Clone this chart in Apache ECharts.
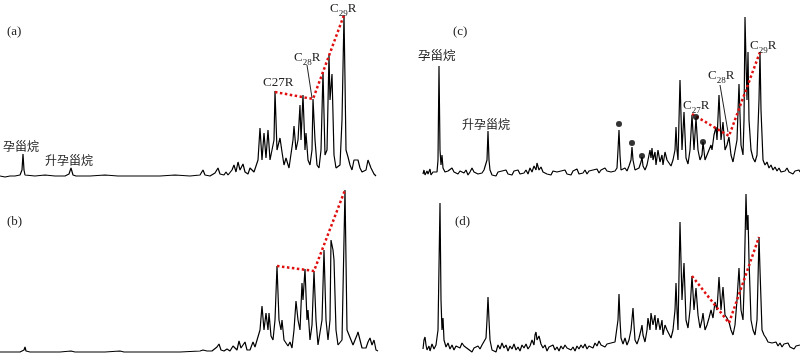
<!DOCTYPE html>
<html><head><meta charset="utf-8">
<script src="https://cdn.jsdelivr.net/npm/echarts@6/dist/echarts.min.js"></script>
<style>html,body{margin:0;padding:0;background:#fff}#c{width:800px;height:360px}</style>
</head><body><div id="c"></div>
<script>
// Panel (a): [scan, abundance]
const traceA = [[0,4],[5,3],[10,4],[15,4],[20,5],[22,10],[23,26],[24,10],[25,5],[27,4],[35,4],[45,5],[55,4],[65,4],[69,6],[71,12],[73,5],[76,4],[90,4],[105,5],[118,4],[120,6],[122,4],[140,4],[160,4],[175,5],[190,4],[200,5],[203,10],[205,5],[210,4],[215,7],[218,12],[220,6],[224,5],[226,8],[228,5],[232,10],[234,15],[236,8],[238,18],[240,10],[243,16],[245,8],[248,6],[250,12],[252,14],[254,8],[256,10],[258,20],[260,52],[262,20],[264,47],[266,22],[268,50],[270,20],[272,18],[274,40],[275,89],[277,30],[280,42],[282,28],[284,15],[286,22],[287,23],[289,12],[291,14],[293,40],[294,54],[296,30],[298,40],[300,75],[301,40],[303,85],[305,30],[306,47],[308,20],[310,15],[312,30],[313,81],[315,40],[317,15],[319,12],[321,30],[323,108],[325,25],[327,30],[329,125],[330,80],[332,106],[334,25],[336,12],[338,10],[340,15],[342,60],[344,165],[345,100],[346,30],[348,23],[350,15],[352,10],[354,20],[356,18],[358,20],[360,12],[362,8],[364,8],[366,10],[368,20],[369,21],[371,12],[372,14],[374,6],[376,4]];
const steraneA = [[275,88],[313,81],[344,165]];

// Panel (b)
const traceB = [[0,8],[10,8],[20,8],[24,10],[25,13],[26,9],[30,8],[45,8],[60,8],[71,9],[73,11],[75,8],[90,8],[105,8],[120,9],[122,10],[124,8],[140,8],[160,8],[180,8],[200,9],[203,10],[205,12],[207,9],[212,9],[217,13],[219,16],[221,10],[224,9],[227,11],[230,9],[233,14],[235,15],[237,10],[239,19],[241,12],[243,14],[245,18],[247,10],[250,10],[253,18],[255,13],[257,15],[260,30],[262,54],[264,30],[266,47],[268,30],[269,47],[271,24],[273,20],[275,40],[277,94],[279,40],[281,30],[282,40],[284,20],[286,22],[288,14],[290,18],[292,12],[294,30],[296,59],[298,40],[300,30],[302,77],[303,60],[305,91],[307,40],[308,50],[310,20],[312,35],[314,89],[316,40],[318,15],[320,17],[322,40],[324,110],[326,40],[328,20],[330,40],[331,120],[333,110],[334,100],[336,30],[338,15],[340,13],[342,20],[345,170],[347,30],[349,25],[351,20],[353,15],[355,17],[357,25],[358,28],[360,20],[362,12],[364,10],[366,12],[368,18],[370,22],[372,15],[374,20],[376,10],[378,9]];
const steraneB = [[277,94],[314,89],[345,170]];

// Panel (c)
const traceC = [[423,6],[424,10],[425,5],[427,9],[428,6],[430,11],[431,5],[433,8],[435,9],[437,8],[438,20],[439,114],[440,30],[441,15],[442,25],[443,12],[445,8],[446,6],[448,9],[450,7],[452,12],[454,8],[456,10],[458,6],[460,9],[462,11],[464,7],[466,10],[468,5],[470,8],[472,12],[474,8],[476,10],[478,6],[480,8],[482,7],[484,10],[486,12],[487,20],[488,49],[489,20],[490,10],[492,5],[494,7],[496,4],[498,8],[500,6],[502,9],[504,7],[506,10],[508,6],[510,8],[512,5],[514,9],[516,7],[518,10],[520,6],[522,8],[524,7],[526,10],[528,6],[530,12],[532,8],[534,14],[536,10],[537,17],[539,10],[541,13],[543,8],[545,9],[547,6],[549,8],[551,5],[553,9],[555,7],[557,8],[559,6],[561,9],[563,7],[565,10],[567,6],[569,8],[571,5],[573,9],[575,8],[577,11],[579,6],[581,8],[583,7],[585,10],[587,6],[589,9],[591,7],[593,10],[595,8],[597,11],[599,7],[601,10],[603,8],[605,12],[607,9],[609,11],[611,8],[613,10],[615,9],[617,12],[618,30],[619,50],[620,25],[621,10],[623,8],[625,12],[627,9],[629,14],[631,20],[632,33],[633,20],[635,10],[637,8],[639,12],[641,18],[642,23],[643,14],[645,10],[647,15],[649,25],[650,30],[651,22],[652,32],[653,20],[655,28],[656,15],[658,30],[660,18],[662,25],[663,15],[665,28],[667,20],[669,17],[671,14],[673,20],[675,30],[676,53],[677,30],[678,20],[680,100],[682,30],[684,68],[686,22],[688,16],[690,30],[692,65],[694,30],[696,62],[698,30],[700,20],[702,25],[703,38],[705,20],[707,22],[709,30],[711,35],[712,30],[714,45],[716,53],[717,40],[719,85],[721,40],[723,58],[725,30],[727,35],[729,43],[731,25],[733,18],[735,20],[737,40],[739,96],[741,35],[743,25],[744,60],[745,163],[746,120],[747,80],[748,128],[749,60],[751,30],[753,22],[755,18],[757,25],[759,80],[760,128],[761,70],[763,20],[765,15],[767,18],[769,12],[771,15],[773,10],[775,13],[777,9],[779,12],[781,8],[783,10],[785,9],[787,12],[789,8],[791,10],[793,6],[795,9],[797,7],[799,10],[800,8]];
const steraneC = [[692,66],[729,44],[760,128]];
const markedC = [[619,56],[632,37],[642,24],[696,63],[703,38]];

// Panel (d)
const traceD = [[423,11],[424,20],[425,23],[426,15],[427,10],[429,14],[430,9],[432,16],[434,11],[436,15],[438,30],[440,157],[441,60],[442,30],[443,42],[444,20],[446,13],[448,17],[450,11],[452,15],[454,10],[456,14],[458,16],[460,12],[462,17],[464,14],[466,16],[468,11],[470,13],[472,8],[474,12],[476,10],[478,14],[480,11],[482,15],[484,16],[486,22],[487,40],[488,63],[489,40],[490,20],[492,10],[494,12],[496,8],[498,15],[500,11],[502,17],[504,12],[506,15],[508,9],[510,14],[512,11],[514,16],[516,10],[518,13],[520,9],[522,15],[524,12],[526,16],[528,11],[530,14],[532,20],[534,15],[535,25],[536,28],[537,20],[539,24],[541,16],[543,12],[545,15],[547,9],[549,13],[551,11],[553,15],[555,10],[557,13],[559,9],[561,14],[563,11],[565,15],[567,12],[569,14],[571,10],[573,13],[575,9],[577,14],[579,11],[581,15],[583,12],[585,16],[587,11],[589,14],[591,15],[593,12],[595,17],[597,14],[599,19],[601,15],[603,17],[605,13],[607,16],[609,14],[611,17],[613,15],[615,18],[617,20],[618,40],[619,66],[620,40],[621,22],[623,16],[625,22],[627,15],[629,20],[631,30],[633,52],[634,35],[635,20],[637,16],[639,22],[641,30],[642,35],[643,25],[645,18],[647,30],[648,42],[650,30],[651,47],[653,35],[655,45],[656,30],[658,42],[660,30],[662,40],[663,25],[665,35],[667,30],[669,26],[671,22],[673,30],[675,50],[676,77],[677,50],[678,30],[680,138],[682,60],[684,97],[686,40],[688,32],[690,50],[692,84],[694,50],[696,72],[698,45],[700,32],[702,40],[703,47],[705,30],[707,35],[709,42],[711,50],[713,42],[715,58],[717,50],[719,83],[721,50],[723,73],[725,45],[727,42],[729,38],[731,30],[733,25],[735,35],[737,60],[739,92],[741,50],[743,40],[744,70],[746,166],[747,130],[748,145],[749,100],[751,40],[753,30],[755,25],[757,40],[758,80],[759,123],[760,90],[762,30],[764,25],[766,22],[768,18],[770,20],[772,17],[774,15],[776,18],[778,14],[780,17],[782,13],[784,16],[786,14],[788,17],[790,13],[792,15],[794,11],[796,14],[798,12],[800,15]];
const steraneD = [[692,84],[729,37],[759,123]];

const panelLabels = ['(a)', '(b)', '(c)', '(d)'];

const SERIF = '"Liberation Serif","Times New Roman",serif';
const CJK = '"Noto Sans CJK SC",sans-serif';

const chart = echarts.init(document.getElementById('c'), null, {renderer: 'canvas'});

const grids = [
  {left: 0, top: 0, width: 400, height: 180},
  {left: 0, top: 180, width: 400, height: 180},
  {left: 400, top: 0, width: 400, height: 180},
  {left: 400, top: 180, width: 400, height: 180}
];
const xRanges = [[0,400],[0,400],[400,800],[400,800]];
const xAxes = xRanges.map((r, i) => ({type: 'value', gridIndex: i, min: r[0], max: r[1], show: false}));
const yAxes = grids.map((g, i) => ({type: 'value', gridIndex: i, min: 0, max: 180, show: false}));

const traces = [traceA, traceB, traceC, traceD];
const steranes = [steraneA, steraneB, steraneC, steraneD];

const series = [];
traces.forEach((t, i) => {
  series.push({type: 'line', xAxisIndex: i, yAxisIndex: i, data: t, symbol: 'none', animation: false,
    lineStyle: {color: '#000', width: 1.2}, z: 2});
});
steranes.forEach((s, i) => {
  series.push({type: 'line', xAxisIndex: i, yAxisIndex: i, data: s, symbol: 'none', animation: false,
    lineStyle: {color: '#e01010', width: 2.5, type: [2.5, 2.5]}, z: 3});
});
series.push({type: 'scatter', xAxisIndex: 2, yAxisIndex: 2, data: markedC, symbol: 'circle', symbolSize: 6,
  itemStyle: {color: '#000'}, animation: false, z: 4});

function txt(x, y, text, font, size) {
  return {type: 'text', x: x, y: y, z: 10, style: {text: text, fontFamily: font, fontSize: size, fill: '#222', verticalAlign: 'middle'}};
}
function sub(x, y, n) {
  return {type: 'text', x: x, y: y, z: 10, style: {
    text: '{c|C}{s|' + n + '}{c|R}', verticalAlign: 'middle',
    rich: {
      c: {fontFamily: SERIF, fontSize: 13, fill: '#222', lineHeight: 15, verticalAlign: 'bottom'},
      s: {fontFamily: SERIF, fontSize: 9, fill: '#222', lineHeight: 15, verticalAlign: 'bottom', padding: [0, 0, -3, 0]}
    }}};
}

const graphic = [
  txt(7, 32, panelLabels[0], SERIF, 13),
  txt(7, 222, panelLabels[1], SERIF, 13),
  txt(453, 32, panelLabels[2], SERIF, 13),
  txt(455, 222, panelLabels[3], SERIF, 13),
  txt(3, 146, '孕甾烷', CJK, 12),
  txt(45, 160, '升孕甾烷', CJK, 12),
  txt(418, 55, '孕甾烷', CJK, 12.5),
  txt(462, 124, '升孕甾烷', CJK, 12),
  txt(263, 83, 'C27R', SERIF, 13),
  sub(294, 57, '28'),
  sub(330, 8, '29'),
  sub(683, 105, '27'),
  sub(708, 75, '28'),
  sub(750, 45, '29'),
  {type: 'line', z: 10, shape: {x1: 307, y1: 65, x2: 312, y2: 98}, style: {stroke: '#222', lineWidth: 1}},
  {type: 'line', z: 10, shape: {x1: 720, y1: 85, x2: 728, y2: 132}, style: {stroke: '#222', lineWidth: 1}}
];

chart.setOption({
  backgroundColor: '#fff',
  animation: false,
  grid: grids,
  xAxis: xAxes,
  yAxis: yAxes,
  series: series,
  graphic: graphic
});
</script></body></html>
